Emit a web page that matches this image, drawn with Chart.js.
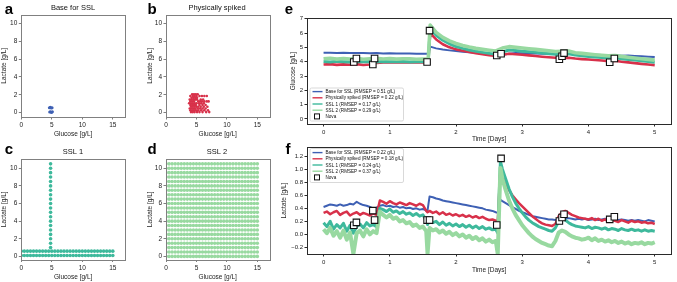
<!DOCTYPE html>
<html><head><meta charset="utf-8">
<script src="https://cdn.jsdelivr.net/npm/chart.js@4.4.1/dist/chart.umd.min.js"></script>
<style>
html,body{margin:0;padding:0;background:#fff;}
#wrap{position:relative;width:677px;height:282px;overflow:hidden;background:#fff;}
#wrap canvas{position:absolute;left:0;top:0;}
</style></head><body>
<div id="wrap">
<canvas id="pa" width="677" height="282"></canvas>
<canvas id="pb" width="677" height="282"></canvas>
<canvas id="pc" width="677" height="282"></canvas>
<canvas id="pd" width="677" height="282"></canvas>
<canvas id="pe" width="677" height="282"></canvas>
<canvas id="pf" width="677" height="282"></canvas>
</div>
<script>
// ---------------- data ----------------
const seriesNames = ['Base for SSL', 'Physically spiked', 'SSL 1', 'SSL 2', 'Nova'];
const rmsepGlc = ['0.51', '0.22', '0.17', '0.29'];
const rmsepLac = ['0.22', '0.18', '0.24', '0.37'];

// panel a: base for SSL
const baseGlc = [4.6, 4.75, 4.9, 5.05, 4.65, 4.8, 4.95, 5.1];
const baseLac = [0.55, 0.6, 0.5, 0.55, 0.05, 0.1, 0.0, 0.08];

// panel b: physically spiked
const spikedGlc = [4.3,4.6,4.9,5.2, 4.0,4.4,4.7,5.0,5.5,5.9,6.3,6.7, 4.2,4.5,4.8,5.1, 3.9,4.2,4.5,4.8,5.1,5.7,6.1,
  4.0,4.3,4.6,5.3,5.6,5.9,6.3,6.7,7.0, 3.8,4.1,4.4,4.7,5.0,5.4,5.8,6.2, 4.0,4.3,4.6,4.9,5.5,6.0,6.5,
  4.1,4.4,4.7,5.0,5.3,5.7,6.2,6.8, 3.9,4.2,4.5,4.8,5.2,5.6,6.0,6.5, 4.0,4.3,4.6,4.9,5.3,5.8,6.3,6.9, 4.1,4.4,4.7,5.1,5.5,6.0,6.6,7.1];
const spikedLac = [2.05,2.05,2.05,2.05, 1.85,1.85,1.85,1.85,1.85,1.85,1.85,1.85, 1.65,1.65,1.65,1.65, 1.45,1.45,1.45,1.45,1.45,1.45,1.45,
  1.25,1.25,1.25,1.25,1.25,1.25,1.25,1.25,1.25, 1.05,1.05,1.05,1.05,1.05,1.05,1.05,1.05, 0.85,0.85,0.85,0.85,0.85,0.85,0.85,
  0.65,0.65,0.65,0.65,0.65,0.65,0.65,0.65, 0.45,0.45,0.45,0.45,0.45,0.45,0.45,0.45, 0.25,0.25,0.25,0.25,0.25,0.25,0.25,0.25, 0.05,0.05,0.05,0.05,0.05,0.05,0.05,0.05];

// panels c, d: synthetic libraries (grid levels)
const glucoseLevels = [0,0.5,1,1.5,2,2.5,3,3.5,4,4.5,5,5.5,6,6.5,7,7.5,8,8.5,9,9.5,10,10.5,11,11.5,12,12.5,13,13.5,14,14.5,15];
const ssl1RowLactate = [0.1, 0.6];
const ssl1ColGlucose = [4.8];
const ssl1ColLactate = [1,1.5,2,2.5,3,3.5,4,4.5,5,5.5,6,6.5,7,7.5,8,8.5,9,9.5,10,10.5];
const ssl2RowLactate = [0,0.5,1,1.5,2,2.5,3,3.5,4,4.5,5,5.5,6,6.5,7,7.5,8,8.5,9,9.5,10,10.5];

// panel e: glucose predictions over time
const tE = [0,0.1,0.2,0.3,0.4,0.5,0.6,0.7,0.8,0.9,1.0,1.1,1.2,1.3,1.4,1.5,1.58,1.61,1.7,1.8,1.9,2.0,2.1,2.2,2.3,2.4,2.5,2.6,2.7,2.8,2.9,3.0,3.1,3.2,3.3,3.4,3.5,3.6,3.7,3.8,3.9,4.0,4.1,4.2,4.3,4.4,4.5,4.6,4.7,4.8,4.9,5.0];
const glcBase = [4.62,4.63,4.61,4.62,4.60,4.61,4.60,4.59,4.60,4.58,4.59,4.58,4.57,4.58,4.56,4.56, 4.55,5.05,
  4.93,4.85,4.79,4.74,4.70,4.66,4.62,4.58,4.54,4.50, 4.48,4.56,4.60,4.59,4.58,4.57,4.56,4.55,4.54,4.53,
  4.55,4.56,4.53,4.51,4.49,4.47,4.45,4.43,4.41,4.43, 4.40,4.38,4.35,4.32];
const glcSpiked = [3.80,3.83,3.78,3.81,3.79,3.83,3.77,3.80,3.92,3.95,3.94,3.96,3.95,3.94,3.96,3.95, 3.95,6.00,
  5.55,5.22,5.00,4.86,4.76,4.67,4.59,4.52,4.46,4.40, 4.48,4.55,4.52,4.48,4.44,4.40,4.35,4.31,4.27,4.24,
  4.28,4.22,4.18,4.15,4.12,4.08,4.04,4.06,4.00,3.95, 3.90,3.85,3.80,3.76];
const glcSsl1 = [4.02,3.98,4.03,4.00,3.97,4.02,3.99,4.01,3.98,4.02,4.00,3.99,4.01,3.98,4.00,3.99, 3.99,6.35,
  5.85,5.50,5.25,5.06,4.93,4.82,4.73,4.65,4.58,4.52, 4.68,4.82,4.78,4.73,4.69,4.65,4.60,4.56,4.52,4.54,
  4.55,4.46,4.41,4.37,4.33,4.29,4.25,4.27,4.21,4.16, 4.11,4.06,4.01,3.96];
const glcSsl2 = [4.20,4.24,4.18,4.22,4.19,4.23,4.17,4.21,4.24,4.19,4.22,4.18,4.21,4.20,4.17,4.19, 4.18,6.55,
  6.05,5.70,5.45,5.27,5.13,5.02,4.93,4.86,4.80,4.75, 4.95,5.05,5.00,4.95,4.90,4.86,4.81,4.76,4.71,4.73,
  4.74,4.63,4.58,4.53,4.49,4.45,4.41,4.43,4.37,4.31, 4.26,4.21,4.16,4.11];

// panel f: lactate predictions over time
const tF = [0,0.05,0.1,0.15,0.2,0.25,0.3,0.35,0.4,0.45,0.5,0.55,0.6,0.65,0.7,0.75,0.8,0.85,0.9,0.95,1.0,1.05,1.1,1.15,1.2,1.25,1.3,1.35,1.4,1.45,1.5,1.55,1.57,
  1.6,1.65,1.7,1.75,1.8,1.85,1.9,1.95,2.0,2.05,2.1,2.15,2.2,2.25,2.3,2.35,2.4,2.45,2.5,2.55,2.6,2.63,2.67,
  2.7,2.75,2.8,2.85,2.9,2.95,3.0,3.05,3.1,3.15,3.2,3.25,3.3,3.35,3.4,3.45,3.5,3.55,3.6,3.65,3.7,3.75,3.8,3.85,3.9,3.95,
  4.0,4.05,4.1,4.15,4.2,4.25,4.3,4.35,4.4,4.45,4.5,4.55,4.6,4.65,4.7,4.75,4.8,4.85,4.9,4.95,5.0];
const lacBase = [0.42,0.44,0.46,0.45,0.44,0.46,0.44,0.45,0.47,0.46, 0.50,0.47,0.45,0.44,0.42,0.40,0.41,
  0.44,0.45,0.43,0.44,0.42,0.43,0.41,0.42,0.40,0.41,0.39,0.40,0.38,0.39,0.37, 0.37,
  0.58,0.57,0.55,0.54,0.52,0.51,0.50,0.49,0.48,0.47,0.46,0.45,0.44,0.43,0.42,0.41,0.40,0.38,0.37,0.36,0.34, 0.33, 0.53,
  0.51,0.48,0.45,0.42,0.39,0.36,0.34,0.32,0.30,0.28, 0.27,0.26,0.25,0.24,0.23,0.23,0.22,0.24,0.25,0.24,
  0.25,0.24,0.23,0.24,0.23,0.24,0.22,0.23,0.24,0.22, 0.23,0.24,0.22,0.23,0.21,0.22,0.23,0.22,0.21,0.22, 0.21,0.22,0.21,0.20,0.22,0.21,0.20];
const lacSpiked = [0.33,0.35,0.31,0.34,0.36,0.30,0.33,0.35,0.29,0.32, 0.34,0.30,0.33,0.31,0.29,0.32,0.30,
  0.52,0.50,0.47,0.51,0.48,0.46,0.49,0.47,0.45,0.48,0.46,0.44,0.47,0.45,0.36, 0.34,
  0.36,0.33,0.35,0.31,0.34,0.30,0.32,0.29,0.31,0.28,0.30,0.27,0.29,0.26,0.28,0.25,0.27,0.24,0.22,0.23,0.21, 0.20, 1.00,
  0.92,0.80,0.68,0.60,0.54,0.48,0.43,0.38,0.33,0.28, 0.24,0.20,0.17,0.15,0.14,0.13,0.16,0.28,0.34,0.36,
  0.33,0.30,0.28,0.26,0.25,0.24,0.23,0.25,0.22,0.24, 0.21,0.23,0.20,0.22,0.21,0.19,0.22,0.20,0.18,0.21, 0.19,0.20,0.18,0.19,0.17,0.18,0.16];
const lacSsl1 = [0.18,0.12,0.20,0.08,0.15,0.10,0.17,0.05,0.14,0.02, 0.12,0.16,0.10,0.18,0.13,0.15,0.12,
  0.40,0.38,0.35,0.39,0.34,0.36,0.32,0.35,0.31,0.33,0.29,0.32,0.28,0.30,0.22, 0.15,
  0.22,0.18,0.20,0.15,0.19,0.14,0.17,0.13,0.16,0.12,0.15,0.11,0.14,0.10,0.13,0.09,0.12,0.08,0.10,0.07,0.08, 0.02, 1.12,
  1.00,0.85,0.70,0.58,0.48,0.40,0.33,0.27,0.22,0.18, 0.15,0.12,0.10,0.08,0.06,0.05,0.10,0.20,0.24,0.22,
  0.18,0.15,0.13,0.12,0.11,0.10,0.12,0.09,0.11,0.10, 0.08,0.10,0.07,0.09,0.08,0.06,0.09,0.07,0.06,0.08, 0.06,0.07,0.05,0.07,0.05,0.06,0.05];
const lacSsl2 = [0.08,0.02,0.10,-0.02,0.05,-0.05,0.06,-0.08,0.03,-0.30, 0.02,0.06,-0.03,0.08,0.00,0.05,0.02,
  0.35,0.30,0.26,0.30,0.24,0.26,0.20,0.22,0.17,0.19,0.13,0.15,0.10,0.12,0.05, -0.30,
  0.10,0.06,0.08,0.03,0.06,0.01,0.04,-0.01,0.02,-0.03,0.00,-0.05,-0.02,-0.07,-0.04,-0.09,-0.06,-0.11,-0.08,-0.12,-0.10, -0.30, 1.02,
  0.85,0.68,0.52,0.40,0.30,0.22,0.14,0.08,0.02,-0.03, -0.07,-0.10,-0.13,-0.15,-0.17,-0.18,-0.10,0.03,0.06,0.04,
  0.00,-0.03,-0.05,-0.06,-0.08,-0.07,-0.05,-0.09,-0.06,-0.10, -0.08,-0.11,-0.09,-0.12,-0.10,-0.13,-0.11,-0.14,-0.12,-0.15, -0.13,-0.14,-0.12,-0.15,-0.13,-0.14,-0.12];

// Nova reference measurements
const novaT   = [0.456,0.496,0.744,0.77,1.563,1.6,2.615,2.68,3.56,3.6,3.63,4.32,4.39];
const novaGlc = [3.98,4.22,3.80,4.22,3.98,6.17,4.43,4.55,4.17,4.38,4.60,3.96,4.22];
const novaLac = [0.14,0.185,0.365,0.22,0.22,0.22,0.145,1.165,0.206,0.26,0.31,0.23,0.27];

// ticks
const smallXTicks = [0,5,10,15];
const smallXLabels = ['0','5','10','15'];
const smallYTicks = [0,2,4,6,8,10];
const smallYLabels = ['0','2','4','6','8','10'];
const timeTicks = [0,1,2,3,4,5];
const timeLabels = ['0','1','2','3','4','5'];
const glcTicks = [0,1,2,3,4,5,6,7];
const glcLabels = ['0','1','2','3','4','5','6','7'];
const lacTicks = [-0.2,0,0.2,0.4,0.6,0.8,1.0,1.2];
const lacLabels = ['\u22120.2','0.0','0.2','0.4','0.6','0.8','1.0','1.2'];

// ---------------- rendering ----------------
const PW = 677, PH = 282;
const FONT = "'Liberation Sans', Arial, Helvetica, sans-serif";
const COL = {base:'#3e60b4', spiked:'#d8314a', ssl1:'#3eb99c', ssl2:'#98d9a0'};

const pts = (xs, ys) => xs.map((x, i) => ({x: x, y: ys[i]}));
function grid(xs, ys) { const o = []; ys.forEach(y => xs.forEach(x => o.push({x: x, y: y}))); return o; }

const decor = {
  id: 'decor',
  afterDraw(chart, args, o) {
    const ctx = chart.ctx, a = chart.chartArea;
    ctx.save();
    ctx.strokeStyle = o.frame; ctx.lineWidth = 1;
    ctx.strokeRect(Math.round(a.left) + 0.5, Math.round(a.top) + 0.5,
                   Math.round(a.right) - Math.round(a.left), Math.round(a.bottom) - Math.round(a.top));
    if (o.legend) {
      const L = o.legend;
      ctx.beginPath();
      if (ctx.roundRect) ctx.roundRect(L.x + 0.5, L.y + 0.5, L.w, L.h, 1.5); else ctx.rect(L.x + 0.5, L.y + 0.5, L.w, L.h);
      ctx.fillStyle = 'rgba(255,255,255,0.85)'; ctx.fill();
      ctx.strokeStyle = '#cfcfcf'; ctx.lineWidth = 0.8; ctx.stroke();
      ctx.font = L.fs + 'px ' + FONT; ctx.textBaseline = 'middle'; ctx.textAlign = 'left';
      chart.data.datasets.forEach((ds, i) => {
        const y = L.y + L.pad + L.row * (i + 0.5);
        if (ds.legendKind === 'square') {
          ctx.fillStyle = '#fff'; ctx.strokeStyle = '#111'; ctx.lineWidth = 1;
          ctx.fillRect(L.x + 5, y - 2.5, 5, 5); ctx.strokeRect(L.x + 5, y - 2.5, 5, 5);
        } else {
          ctx.strokeStyle = ds.borderColor; ctx.lineWidth = 1.4;
          ctx.beginPath(); ctx.moveTo(L.x + 3, y); ctx.lineTo(L.x + 13, y); ctx.stroke();
        }
        ctx.fillStyle = '#111';
        ctx.fillText(ds.label, L.x + 16, y + 0.3);
      });
    }
    ctx.fillStyle = '#000'; ctx.textAlign = 'center'; ctx.textBaseline = 'middle';
    ctx.font = 'bold 15px ' + FONT;
    ctx.fillText(o.letter, o.lx, o.ly);
    if (o.title) {
      ctx.font = '7.5px ' + FONT; ctx.fillStyle = '#111';
      ctx.fillText(o.title, o.tx, o.ty);
    }
    ctx.restore();
  }
};

function axis(a, isX) {
  return {
    type: 'linear', position: isX ? 'bottom' : 'left', min: a.min, max: a.max,
    afterBuildTicks: s => { s.ticks = a.ticks.map(v => ({value: v})); },
    afterFit: s => { if (isX) s.height = a.size; else s.width = a.size; },
    grid: {display: true, drawOnChartArea: false, drawTicks: true, tickLength: a.tl, color: a.color, lineWidth: 1},
    border: {display: false},
    ticks: {font: {family: FONT, size: a.fs}, color: '#222', padding: a.pad, maxRotation: 0, autoSkip: false,
            callback: (v, i) => a.labels[i]},
    title: {display: true, text: a.title, font: {family: FONT, size: a.tfs}, color: '#222', padding: 0}
  };
}

function panel(id, o) {
  return new Chart(document.getElementById(id), {
    type: 'scatter',
    data: {datasets: o.datasets},
    options: {
      responsive: false, animation: false, events: [],
      layout: {padding: {left: o.area.l - o.x.yw, top: o.area.t, right: PW - o.area.r, bottom: PH - o.area.b - o.x.xh}},
      plugins: {legend: {display: false}, tooltip: {enabled: false}, decor: o.decor},
      scales: {
        x: axis(Object.assign({}, o.x, {size: o.x.xh}), true),
        y: axis(Object.assign({}, o.y, {size: o.x.yw}), false)
      }
    },
    plugins: [decor]
  });
}

function smallAxes(yw, xh, ymin, ymax) {
  return {
    x: {min: 0, max: 17, ticks: smallXTicks, labels: smallXLabels, title: 'Glucose [g/L]', fs: 6.5, tfs: 6.5, pad: 2, tl: 2.5, color: '#808080', yw: yw, xh: xh},
    y: {min: ymin, max: ymax, ticks: smallYTicks, labels: smallYLabels, title: 'Lactate [g/L]', fs: 6.5, tfs: 6.5, pad: 1.5, tl: 2.5, color: '#808080'}
  };
}
function scat(data, color, r) {
  return {data: data, pointRadius: r, pointBorderWidth: 0, backgroundColor: color, borderColor: color, showLine: false};
}

let ax = smallAxes(20.7, 21.5, -0.5, 11);
panel('pa', {area: {l: 21.3, r: 125, t: 14.5, b: 117}, x: ax.x, y: ax.y,
  datasets: [scat(pts(baseGlc, baseLac), COL.base, 1.5)],
  decor: {frame: '#808080', letter: 'a', lx: 9, ly: 10, title: seriesNames[0], tx: 73, ty: 8}});
ax = smallAxes(19.9, 21.5, -0.5, 11);
panel('pb', {area: {l: 166, r: 269.5, t: 14.5, b: 117}, x: ax.x, y: ax.y,
  datasets: [scat(pts(spikedGlc, spikedLac), COL.spiked, 1.3)],
  decor: {frame: '#808080', letter: 'b', lx: 152, ly: 10, title: seriesNames[1], tx: 217, ty: 8}});
ax = smallAxes(20.7, 21.4, -0.35, 11.05);
panel('pc', {area: {l: 21.3, r: 125, t: 159, b: 259.5}, x: ax.x, y: ax.y,
  datasets: [scat(grid(glucoseLevels, ssl1RowLactate).concat(grid(ssl1ColGlucose, ssl1ColLactate)), COL.ssl1, 1.8)],
  decor: {frame: '#808080', letter: 'c', lx: 9, ly: 150, title: seriesNames[2], tx: 73, ty: 152}});
ax = smallAxes(19.9, 21.4, -0.35, 11.05);
panel('pd', {area: {l: 166, r: 269.5, t: 159, b: 259.5}, x: ax.x, y: ax.y,
  datasets: [scat(grid(glucoseLevels, ssl2RowLactate), COL.ssl2, 1.8)],
  decor: {frame: '#808080', letter: 'd', lx: 152, ly: 150, title: seriesNames[3], tx: 217, ty: 152}});

function lineDs(label, t, v, color, w, order) {
  return {label: label, data: pts(t, v), showLine: true, pointRadius: 0, borderColor: color, backgroundColor: color,
          borderWidth: w, order: order, tension: 0, borderJoinStyle: 'round'};
}
function novaDs(t, v) {
  return {label: seriesNames[4], data: pts(t, v), showLine: false, pointStyle: 'rect', pointRadius: 4.6,
          backgroundColor: '#fff', borderColor: '#111', borderWidth: 1.1, order: 0, legendKind: 'square'};
}

panel('pe', {area: {l: 307, r: 676, t: 18, b: 124},
  x: {min: -0.25, max: 5.25, ticks: timeTicks, labels: timeLabels, title: 'Time [Days]', fs: 6, tfs: 6.5, pad: 2, tl: 2.5, color: '#2a2a2a', yw: 18.1, xh: 18.9},
  y: {min: -0.35, max: 7.05, ticks: glcTicks, labels: glcLabels, title: 'Glucose [g/L]', fs: 6, tfs: 6.5, pad: 1.5, tl: 2.5, color: '#2a2a2a'},
  datasets: [
    lineDs(seriesNames[0] + ' (RMSEP = ' + rmsepGlc[0] + ' g/L)', tE, glcBase, COL.base, 2, 4),
    lineDs(seriesNames[1] + ' (RMSEP = ' + rmsepGlc[1] + ' g/L)', tE, glcSpiked, COL.spiked, 2.6, 3),
    lineDs(seriesNames[2] + ' (RMSEP = ' + rmsepGlc[2] + ' g/L)', tE, glcSsl1, COL.ssl1, 3, 2),
    lineDs(seriesNames[3] + ' (RMSEP = ' + rmsepGlc[3] + ' g/L)', tE, glcSsl2, COL.ssl2, 3.6, 1),
    novaDs(novaT, novaGlc)
  ],
  decor: {frame: '#2a2a2a', letter: 'e', lx: 289, ly: 10,
          legend: {x: 309.5, y: 87.5, w: 93.5, h: 33, pad: 1, row: 6.2, fs: 4.6}}});

panel('pf', {area: {l: 307, r: 676, t: 147, b: 254},
  x: {min: -0.25, max: 5.25, ticks: timeTicks, labels: timeLabels, title: 'Time [Days]', fs: 6, tfs: 6.5, pad: 2, tl: 2.5, color: '#2a2a2a', yw: 26.9, xh: 19.9},
  y: {min: -0.3, max: 1.34, ticks: lacTicks, labels: lacLabels, title: 'Lactate [g/L]', fs: 6, tfs: 6.5, pad: 1.5, tl: 2.5, color: '#2a2a2a'},
  datasets: [
    lineDs(seriesNames[0] + ' (RMSEP = ' + rmsepLac[0] + ' g/L)', tF, lacBase, COL.base, 2, 4),
    lineDs(seriesNames[1] + ' (RMSEP = ' + rmsepLac[1] + ' g/L)', tF, lacSpiked, COL.spiked, 2.5, 3),
    lineDs(seriesNames[2] + ' (RMSEP = ' + rmsepLac[2] + ' g/L)', tF, lacSsl1, COL.ssl1, 3, 2),
    lineDs(seriesNames[3] + ' (RMSEP = ' + rmsepLac[3] + ' g/L)', tF, lacSsl2, COL.ssl2, 4, 1),
    novaDs(novaT, novaLac)
  ],
  decor: {frame: '#2a2a2a', letter: 'f', lx: 288, ly: 150,
          legend: {x: 309.5, y: 148, w: 93.5, h: 34, pad: 1.5, row: 6.2, fs: 4.6}}});
</script>
</body></html>
